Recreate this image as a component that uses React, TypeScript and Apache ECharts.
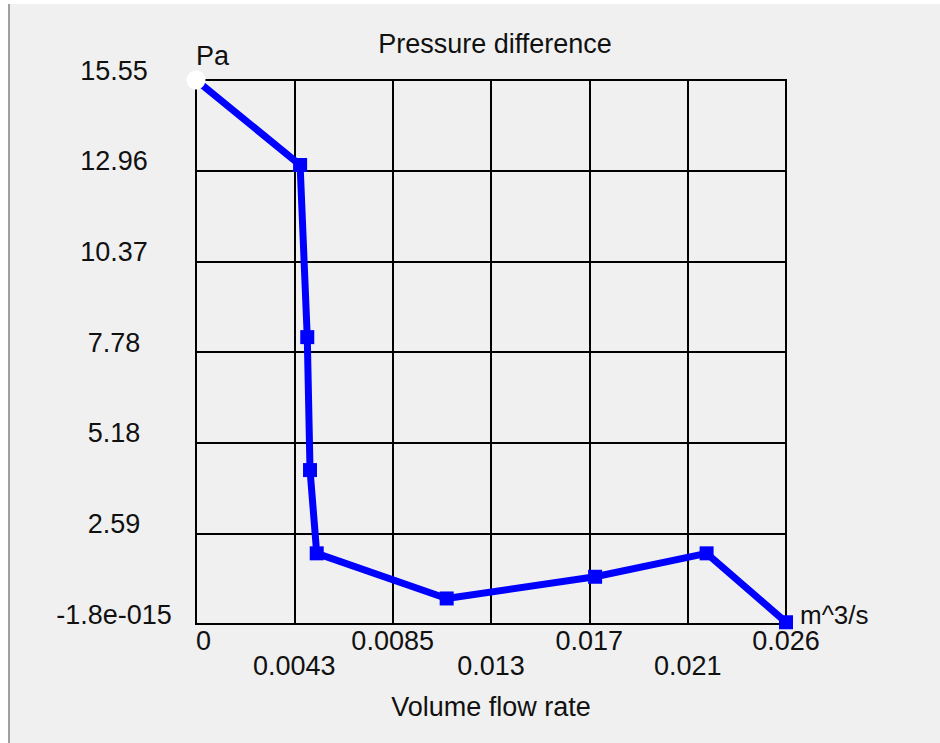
import React, { useEffect, useRef } from "react";
import * as echarts from "echarts";

const flowRate = [0, 0.00451, 0.00482, 0.00494, 0.00523, 0.01086, 0.01729, 0.02212, 0.02556];
const pressure = [15.55, 13.12, 8.2, 4.4, 2.02, 0.73, 1.35, 2.02, 0.05];
const xTickLabels = ["0", "0.0043", "0.0085", "0.013", "0.017", "0.021", "0.026"];
const yTickLabels = ["-1.8e-015", "2.59", "5.18", "7.78", "10.37", "12.96", "15.55"];
const xInterval = 0.00426;
const yInterval = 2.5917;

const FONT = "Liberation Sans, Arial, sans-serif";
const TXT = "#111";

export default function App() {
  const ref = useRef<HTMLDivElement>(null);
  useEffect(() => {
    if (!ref.current) return;
    const chart = echarts.init(ref.current, undefined, { renderer: "svg" });
    const data = flowRate.map((x, i) =>
      i === 0
        ? { value: [x, pressure[i]], symbol: "circle", symbolSize: 19, itemStyle: { color: "#ffffff" } }
        : { value: [x, pressure[i]] }
    );
    chart.setOption({
      animation: false,
      backgroundColor: "transparent",
      textStyle: { fontFamily: FONT },
      title: {
        text: "Pressure difference",
        left: 490,
        top: 25,
        textAlign: "center",
        textStyle: { fontFamily: FONT, fontSize: 27, fontWeight: "normal", color: TXT, lineHeight: 27 },
      },
      grid: { left: 196, top: 80, width: 590, height: 544, show: true, borderColor: "#000", borderWidth: 2, backgroundColor: "transparent" },
      xAxis: {
        type: "value",
        min: 0,
        max: xInterval * 6,
        interval: xInterval,
        name: "Volume flow rate",
        nameLocation: "middle",
        nameGap: 69,
        nameTextStyle: { fontFamily: FONT, fontSize: 27, color: TXT, lineHeight: 27, verticalAlign: "top" },
        axisLine: { show: true, lineStyle: { color: "#000", width: 2 } },
        axisTick: { show: false },
        splitLine: { show: true, lineStyle: { color: "#000", width: 2 } },
        axisLabel: {
          margin: 4,
          fontFamily: FONT,
          fontSize: 27,
          lineHeight: 25,
          color: TXT,
          alignMinLabel: "left",
          formatter: (v: number) => {
            const i = Math.round(v / xInterval);
            const t = xTickLabels[i] ?? "";
            return i % 2 === 1 ? "\n" + t : t;
          },
        },
      },
      yAxis: {
        type: "value",
        min: 0,
        max: yInterval * 6,
        interval: yInterval,
        name: "Pa",
        nameLocation: "end",
        nameGap: 15,
        nameTextStyle: { fontFamily: FONT, fontSize: 27, color: TXT, align: "left", verticalAlign: "bottom", lineHeight: 19 },
        axisLine: { show: true, lineStyle: { color: "#000", width: 2 } },
        axisTick: { show: false },
        splitLine: { show: true, lineStyle: { color: "#000", width: 2 } },
        axisLabel: {
          margin: 82,
          align: "center",
          verticalAlign: "bottom",
          lineHeight: 19,
          fontFamily: FONT,
          fontSize: 27,
          color: TXT,
          formatter: (v: number) => yTickLabels[Math.round(v / yInterval)] ?? "",
        },
      },
      graphic: [
        {
          type: "text",
          x: 800,
          y: 624,
          style: { text: "m^3/s", font: `26px ${FONT}`, fill: TXT, verticalAlign: "bottom", lineHeight: 19 },
        },
      ],
      series: [
        {
          type: "line",
          data,
          symbol: "rect",
          symbolSize: 14,
          showAllSymbol: true,
          lineStyle: { color: "#0000ff", width: 7 },
          itemStyle: { color: "#0000ff" },
          z: 5,
        },
      ],
    });
    return () => chart.dispose();
  }, []);
  return (
    <div style={{ position: "fixed", left: 0, top: 0, width: 940, height: 743, background: "#ffffff" }}>
      <div
        style={{
          position: "absolute",
          left: 8,
          top: 4,
          width: 932,
          height: 739,
          background: "#f0f0f0",
          borderLeft: "2px solid #a0a0a0",
          boxSizing: "border-box",
        }}
      />
      <div ref={ref} style={{ position: "absolute", left: 0, top: 0, width: 940, height: 743 }} />
    </div>
  );
}
